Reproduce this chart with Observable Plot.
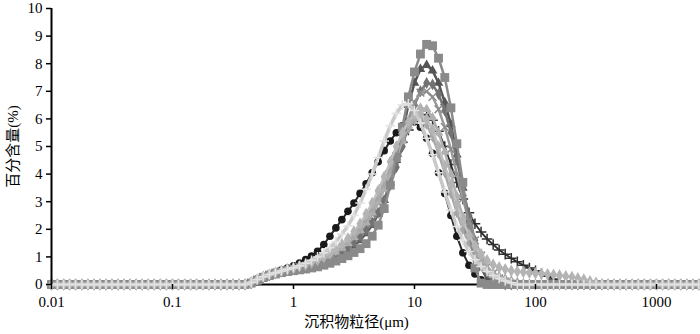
<!DOCTYPE html>
<html><head><meta charset="utf-8">
<script src="https://cdn.jsdelivr.net/npm/d3@7"></script>
<script src="https://cdn.jsdelivr.net/npm/@observablehq/plot@0.6"></script>
<style>body{margin:0;background:#fff}</style>
</head><body><div id="chart"></div>
<script>
// grain-size classes (µm)
const sizes = [
0.01,0.0112,0.0126,0.0141,0.0158,0.0178,0.02,0.0224,0.0251,0.0282,
0.0316,0.0355,0.0398,0.0447,0.0501,0.0562,0.0631,0.0708,0.0794,0.0891,
0.1,0.112,0.126,0.141,0.158,0.178,0.2,0.224,0.251,0.282,
0.316,0.355,0.398,0.447,0.501,0.562,0.631,0.708,0.794,0.891,
1,1.12,1.26,1.41,1.58,1.78,2,2.24,2.51,2.82,
3.16,3.55,3.98,4.47,5.01,5.62,6.31,7.08,7.94,8.91,
10,11.2,12.6,14.1,15.8,17.8,20,22.4,25.1,28.2,
31.6,35.5,39.8,44.7,50.1,56.2,63.1,70.8,79.4,89.1,
100,112,126,141,158,178,200,224,251,282,
316,355,398,447,501,562,631,708,794,891,
1000,1122,1259,1413,1585,1778,1995,2239];

const xTicks = [0.01, 0.1, 1, 10, 100, 1000];
const xTickLabels = ["0.01", "0.1", "1", "10", "100", "1000"];
const yTicks = [0,1,2,3,4,5,6,7,8,9,10];
const xLabel = "沉积物粒径(μm)";
const yLabel = "百分含量(%)";

// series values (%), one per grain-size class
const sA = [
0,0,0,0,0,0,0,0,0,0,
0,0,0,0,0,0,0,0,0,0,
0,0,0,0,0,0,0,0,0,0,
0,0,0,0.05,0.15,0.25,0.32,0.38,0.43,0.47,
0.5,0.53,0.56,0.6,0.64,0.7,0.77,0.85,0.94,1.04,
1.16,1.3,1.48,1.75,2.15,2.75,3.6,4.6,5.7,6.8,
7.7,8.35,8.7,8.65,8.2,7.5,6.4,5.1,3.7,2.0,
0.6,0.05,0,0,0,0,0,0,0,0,
0,0,0,0,0,0,0,0,0,0,
0,0,0,0,0,0,0,0,0,0,
0,0,0,0,0,0,0,0];
const sB = [
0,0,0,0,0,0,0,0,0,0,
0,0,0,0,0,0,0,0,0,0,
0,0,0,0,0,0,0,0,0,0,
0,0,0,0.05,0.15,0.25,0.33,0.4,0.45,0.5,
0.53,0.57,0.61,0.66,0.72,0.8,0.88,0.98,1.1,1.24,
1.4,1.6,1.85,2.15,2.55,3.05,3.7,4.5,5.5,6.5,
7.3,7.8,7.95,7.75,7.3,6.6,5.8,4.7,3.5,2.3,
1.3,0.6,0.2,0.05,0,0,0,0,0,0,
0,0,0,0,0,0,0,0,0,0,
0,0,0,0,0,0,0,0,0,0,
0,0,0,0,0,0,0,0];
const sC = [
0,0,0,0,0,0,0,0,0,0,
0,0,0,0,0,0,0,0,0,0,
0,0,0,0,0,0,0,0,0,0,
0,0,0,0.06,0.16,0.26,0.34,0.41,0.47,0.52,
0.56,0.6,0.65,0.71,0.78,0.87,0.97,1.08,1.21,1.36,
1.53,1.73,1.97,2.25,2.6,3.05,3.6,4.25,5.0,5.8,
6.5,7.0,7.3,7.25,6.9,6.3,5.5,4.5,3.5,2.5,
1.6,0.9,0.45,0.2,0.08,0,0,0,0,0,
0,0,0,0,0,0,0,0,0,0,
0,0,0,0,0,0,0,0,0,0,
0,0,0,0,0,0,0,0];
const sD = [
0,0,0,0,0,0,0,0,0,0,
0,0,0,0,0,0,0,0,0,0,
0,0,0,0,0,0,0,0,0,0,
0,0,0,0.07,0.18,0.28,0.36,0.43,0.49,0.54,
0.58,0.63,0.68,0.74,0.82,0.92,1.03,1.16,1.31,1.48,
1.68,1.92,2.2,2.55,2.95,3.45,4.0,4.65,5.35,6.0,
6.6,6.95,7.0,6.8,6.35,5.7,4.9,4.0,3.1,2.3,
1.6,1.05,0.65,0.4,0.22,0.1,0.03,0,0,0,
0,0,0,0,0,0,0,0,0,0,
0,0,0,0,0,0,0,0,0,0,
0,0,0,0,0,0,0,0];
const sE = [
0,0,0,0,0,0,0,0,0,0,
0,0,0,0,0,0,0,0,0,0,
0,0,0,0,0,0,0,0,0,0,
0,0,0,0.07,0.18,0.28,0.36,0.43,0.49,0.55,
0.61,0.68,0.77,0.88,1.0,1.15,1.33,1.55,1.82,2.13,
2.5,2.95,3.45,4.0,4.6,5.2,5.75,6.2,6.5,6.55,
6.3,5.85,5.3,4.7,4.05,3.35,2.7,2.1,1.6,1.2,
0.9,0.65,0.47,0.33,0.22,0.13,0.06,0,0,0,
0,0,0,0,0,0,0,0,0,0,
0,0,0,0,0,0,0,0,0,0,
0,0,0,0,0,0,0,0];
const sG = [
0,0,0,0,0,0,0,0,0,0,
0,0,0,0,0,0,0,0,0,0,
0,0,0,0,0,0,0,0,0,0,
0,0,0,0.08,0.2,0.3,0.38,0.45,0.52,0.6,
0.68,0.78,0.9,1.03,1.2,1.45,1.75,2.05,2.35,2.65,
2.95,3.3,3.65,4.05,4.45,4.85,5.2,5.5,5.75,5.9,
5.9,5.7,5.3,4.75,4.05,3.3,2.5,1.75,1.15,0.7,
0.38,0.17,0.06,0,0,0,0,0,0,0,
0,0,0,0,0,0,0,0,0,0,
0,0,0,0,0,0,0,0,0,0,
0,0,0,0,0,0,0,0];
const sH = [
0,0,0,0,0,0,0,0,0,0,
0,0,0,0,0,0,0,0,0,0,
0,0,0,0,0,0,0,0,0,0,
0,0,0,0.05,0.15,0.25,0.33,0.4,0.46,0.51,
0.56,0.61,0.67,0.74,0.82,0.92,1.03,1.16,1.31,1.5,
1.72,1.98,2.3,2.68,3.1,3.6,4.1,4.65,5.15,5.6,
5.95,6.15,6.15,5.95,5.55,5.0,4.35,3.7,3.1,2.6,
2.2,1.9,1.65,1.45,1.25,1.1,0.95,0.82,0.7,0.6,
0.5,0.4,0.3,0.2,0.12,0.05,0,0,0,0,
0,0,0,0,0,0,0,0,0,0,
0,0,0,0,0,0,0,0];
const sI = [
0,0,0,0,0,0,0,0,0,0,
0,0,0,0,0,0,0,0,0,0,
0,0,0,0,0,0,0,0,0,0,
0,0,0,0.07,0.18,0.28,0.36,0.43,0.49,0.55,
0.6,0.66,0.72,0.8,0.89,1.0,1.13,1.28,1.46,1.67,
1.92,2.2,2.55,2.95,3.4,3.9,4.45,5.0,5.5,5.9,
6.15,6.2,6.0,5.6,5.0,4.3,3.6,2.9,2.3,1.8,
1.4,1.1,0.88,0.72,0.62,0.55,0.5,0.47,0.45,0.43,
0.41,0.39,0.37,0.35,0.33,0.3,0.27,0.23,0.18,0.12,
0.06,0.02,0,0,0,0,0,0,0,0,
0,0,0,0,0,0,0,0];
const sJ = [
0,0,0,0,0,0,0,0,0,0,
0,0,0,0,0,0,0,0,0,0,
0,0,0,0,0,0,0,0,0,0,
0,0,0,0.06,0.17,0.27,0.35,0.42,0.48,0.53,
0.58,0.64,0.7,0.77,0.86,0.96,1.08,1.22,1.38,1.57,
1.8,2.07,2.4,2.78,3.2,3.68,4.2,4.75,5.25,5.65,
5.95,6.0,5.8,5.35,4.75,4.05,3.3,2.6,2.0,1.5,
1.1,0.8,0.58,0.42,0.3,0.21,0.14,0.08,0.03,0,
0,0,0,0,0,0,0,0,0,0,
0,0,0,0,0,0,0,0,0,0,
0,0,0,0,0,0,0,0];
const sK = [
0,0,0,0,0,0,0,0,0,0,
0,0,0,0,0,0,0,0,0,0,
0,0,0,0,0,0,0,0,0,0,
0,0,0,0.06,0.16,0.26,0.34,0.41,0.47,0.52,
0.57,0.62,0.68,0.75,0.83,0.93,1.04,1.17,1.32,1.5,
1.71,1.96,2.25,2.6,3.0,3.47,4.0,4.6,5.2,5.75,
6.15,6.4,6.35,6.05,5.5,4.8,4.0,3.2,2.45,1.8,
1.25,0.85,0.55,0.35,0.22,0.13,0.07,0.03,0,0,
0,0,0,0,0,0,0,0,0,0,
0,0,0,0,0,0,0,0,0,0,
0,0,0,0,0,0,0,0];

// drawing order: first drawn is at the bottom
const series = [
  {v: sG, line: "#2a2a2a", lw: 2,   symbol: "circle",   r: 3.8, fill: "#1a1a1a"},
  {v: sH, line: "#2e2e2e", lw: 1.8, symbol: "plus",     r: 3.5, stroke: "#2e2e2e"},
  {v: sB, line: "#555555", lw: 2.5, symbol: "triangle", r: 3.6, fill: "#555555"},
  {v: sC, line: "#727272", lw: 2.5, symbol: "diamond",  r: 3.6, fill: "#727272"},
  {v: sD, line: "#9a9a9a", lw: 2.5, symbol: "times",    r: 3.6, stroke: "#8c8c8c"},
  {v: sK, line: "#b0b0b0", lw: 2.5, symbol: "triangle", r: 3.6, fill: "#b0b0b0"},
  {v: sJ, line: "#a6a6a6", lw: 2.5, symbol: "diamond",  r: 3.4, fill: "#a6a6a6"},
  {v: sA, line: "#8a8a8a", lw: 2.5, symbol: "square",   r: 5.0, fill: "#8a8a8a"},
  {v: sI, line: "#c0c0c0", lw: 2.5, symbol: "diamond",  r: 3.8, fill: "#b4b4b4"},
  {v: sE, line: "#c9c9c9", lw: 3.5, symbol: "plus",     r: 3.2, stroke: "#e2e2e2"}
];
series.forEach((s, k) => {
  if (s.v.length !== sizes.length) throw new Error("series " + k + " length " + s.v.length + " != " + sizes.length);
});

const serif = "'Liberation Serif', 'Times New Roman', 'Noto Sans CJK SC', serif";

const marks = [
  Plot.ruleY([0], {stroke: "black", strokeWidth: 2})
];
for (const s of series) {
  const rows = sizes.map((x, i) => ({x, y: s.v[i]}));
  marks.push(Plot.line(rows, {x: "x", y: "y", stroke: s.line, strokeWidth: s.lw, curve: "linear"}));
  if (s.fill) {
    marks.push(Plot.dot(rows, {x: "x", y: "y", symbol: s.symbol, r: s.r, fill: s.fill, stroke: "none"}));
  } else {
    marks.push(Plot.dot(rows, {x: "x", y: "y", symbol: s.symbol, r: s.r, fill: "none", stroke: s.stroke, strokeWidth: 1.5}));
  }
}
marks.push(
  Plot.ruleX([0.01], {stroke: "black", strokeWidth: 2}),
  Plot.axisY({ticks: yTicks, tickSize: 5, tickPadding: 4, label: null, strokeWidth: 1.5,
              fontSize: 15, fontFamily: serif, fill: "black"}),
  Plot.axisX({ticks: xTicks, tickSize: 5, tickPadding: 7, label: null, strokeWidth: 1.5,
              tickFormat: d => xTickLabels[xTicks.indexOf(d)], fontSize: 15, fontFamily: serif, fill: "black"}),
  Plot.text([yLabel], {text: d => d, frameAnchor: "left", dx: -38, rotate: -90, fontSize: 15,
              fontFamily: serif, fill: "black", textAnchor: "middle", lineAnchor: "middle"}),
  Plot.text([xLabel], {text: d => d, frameAnchor: "bottom", dx: -18, dy: 38, fontSize: 15,
              fontFamily: serif, fill: "black", textAnchor: "middle", lineAnchor: "middle"})
);

const chart = Plot.plot({
  width: 700, height: 334,
  marginLeft: 51, marginRight: 3, marginTop: 8, marginBottom: 50,
  style: {background: "#fff", color: "black", fontFamily: serif, fontSize: "15px", overflow: "visible"},
  x: {type: "log", domain: [0.01, 2183]},
  y: {domain: [0, 10]},
  marks
});
document.getElementById("chart").appendChild(chart);
</script>
</body></html>
